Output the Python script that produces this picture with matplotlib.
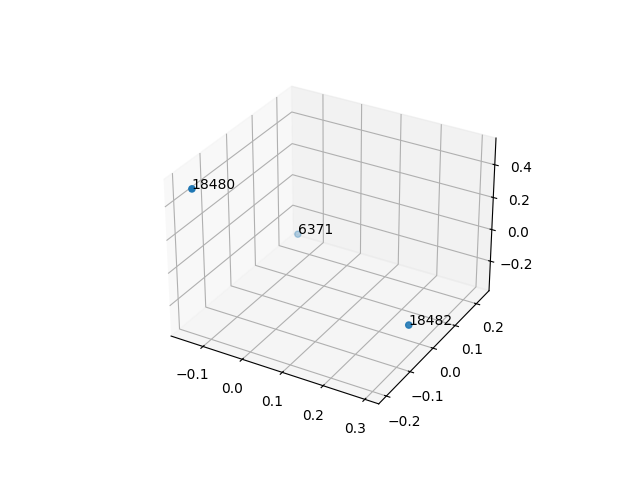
import numpy as np
import matplotlib
matplotlib.use("Agg")
import matplotlib.pyplot as plt

labels = ["18480", "6371", "18482"]
xs = [-0.135, -0.15, 0.3]
ys = [-0.2, 0.23, -0.05]
zs = [0.5, -0.33, -0.2]

fig = plt.figure(figsize=(6.4, 4.8), dpi=100)
ax = fig.add_subplot(projection="3d")
ax.scatter(xs, ys, zs)
for x, y, z, lab in zip(xs, ys, zs, labels):
    ax.text(x, y, z, lab)

fig.savefig("out.png")
